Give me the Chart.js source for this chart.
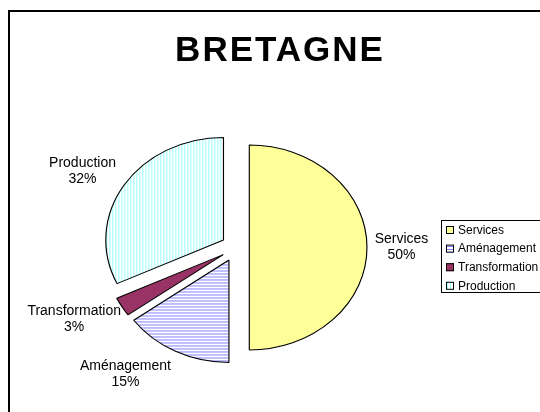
<!DOCTYPE html>
<html>
<head>
<meta charset="utf-8">
<script src="https://cdn.jsdelivr.net/npm/chart.js@4.4.0/dist/chart.umd.min.js"></script>
<style>
  body { margin: 0; background: #fff; }
  canvas { display: block; }
</style>
</head>
<body>
<canvas id="pieChart" width="540" height="412"></canvas>
<script>
const categories = ['Services', 'Aménagement', 'Transformation', 'Production'];
const shares = [50, 15, 3, 32];
const chartTitle = 'BRETAGNE';

function stripes(horizontal, color) {
  const c = document.createElement('canvas');
  c.width = horizontal ? 1 : 3;
  c.height = horizontal ? 3 : 1;
  const g = c.getContext('2d');
  g.fillStyle = '#fff';
  g.fillRect(0, 0, c.width, c.height);
  g.fillStyle = color;
  g.fillRect(0, 0, 1, 1);
  return g.createPattern(c, 'repeat');
}

const ctx = document.getElementById('pieChart').getContext('2d');
const fills = ['#ffff99', stripes(true, '#8080ff'), '#993366', stripes(false, '#99ffff')];

// the original pie is a bit wider than tall, and its slices are pulled apart
const excelLook = {
  id: 'excelLook',
  beforeDraw(chart) {
    const c = chart.ctx;
    c.save();
    c.fillStyle = '#fff';
    c.fillRect(0, 0, chart.width, chart.height);
    c.strokeStyle = '#000';
    c.lineWidth = 2;
    c.strokeRect(9, 11, chart.width + 20, chart.height + 20);
    c.restore();
  },
  beforeDatasetsDraw(chart, args, opts) {
    const c = chart.ctx;
    const sx = opts.stretchX;
    const unstretch = new DOMMatrix([1 / sx, 0, 0, 1, 0, 0]);
    fills.forEach(f => { if (f instanceof CanvasPattern) f.setTransform(unstretch); });
    chart.getDatasetMeta(0).data.forEach(arc => {
      const half = (arc.startAngle + arc.endAngle) / 2;
      c.save();
      c.translate(arc.x + Math.cos(half) * opts.explode, arc.y + Math.sin(half) * opts.explode);
      c.scale(sx, 1);
      c.translate(-arc.x, -arc.y);
      arc.draw(c, chart.chartArea);
      c.restore();
    });
    fills.forEach(f => { if (f instanceof CanvasPattern) f.setTransform(new DOMMatrix()); });
    return false;
  },
  afterDraw(chart, args, opts) {
    const c = chart.ctx;
    c.save();
    // title
    c.fillStyle = '#000';
    c.font = 'bold 35px "Liberation Sans", Arial, sans-serif';
    c.letterSpacing = '2px';
    c.textAlign = 'center';
    c.textBaseline = 'alphabetic';
    c.fillText(chartTitle, 280, 61);
    c.letterSpacing = '0px';

    // data labels
    const meta = chart.getDatasetMeta(0);
    c.font = '14px "Liberation Sans", Arial, sans-serif';
    c.textBaseline = 'middle';
    meta.data.forEach((arc, i) => {
      const a = (arc.startAngle + arc.endAngle) / 2 + opts.labelNudge[i] * Math.PI / 180;
      const d = arc.outerRadius + opts.labelGap[i];
      const x = arc.x + Math.cos(a) * d * opts.stretchX;
      const y = arc.y + Math.sin(a) * d;
      c.fillText(categories[i], x, y - 8);
      c.fillText(shares[i] + '%', x, y + 8);
    });

    // legend
    const lx = 441, ly = 220;
    c.strokeStyle = '#000';
    c.lineWidth = 1;
    c.strokeRect(lx + 0.5, ly + 0.5, 120, 72);
    c.font = '12px "Liberation Sans", Arial, sans-serif';
    c.textAlign = 'left';
    categories.forEach((name, i) => {
      const y = ly + 10 + i * 18.6;
      c.fillStyle = fills[i];
      c.fillRect(lx + 5, y - 4, 8, 8);
      c.strokeRect(lx + 5.5, y - 3.5, 7, 7);
      c.fillStyle = '#000';
      c.fillText(name, lx + 17, y + 0.5);
    });
    c.restore();
  }
};

new Chart(ctx, {
  type: 'pie',
  data: {
    labels: categories,
    datasets: [{
      data: shares,
      backgroundColor: fills,
      borderColor: '#000',
      borderWidth: 1,
      hoverOffset: 0
    }]
  },
  options: {
    responsive: false,
    animation: false,
    events: [],
    layout: {
      padding: { left: 132.3, right: 201.7, top: 144.5, bottom: 61.5 }
    },
    plugins: {
      legend: { display: false },
      tooltip: { enabled: false },
      excelLook: {
        explode: 14,
        stretchX: 1.148,
        labelNudge: [0, 10, 3.6, -2.5],
        labelGap: [42.3, 56.5, 55, 51]
      }
    }
  },
  plugins: [excelLook]
});
</script>
</body>
</html>
